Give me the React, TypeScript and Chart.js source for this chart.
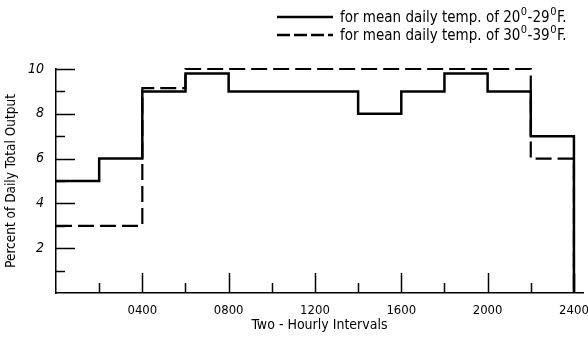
import React, { useEffect, useRef } from 'react';
import { Chart, registerables } from 'chart.js';

Chart.register(...registerables);

// Start hour of each two-hour interval
const intervalStarts = [0, 2, 4, 6, 8, 10, 12, 14, 16, 18, 20, 22];
const dayEndHour = 24;
// Percent of daily total output per interval
const temp20to29 = [5, 6, 9, 9.8, 9, 9, 9, 8, 9, 9.8, 9, 7];
const temp30to39 = [3, 3, 9.15, 10, 10, 10, 10, 10, 10, 10, 10, 6];
const seriesLabels = ['for mean daily temp. of 20⁰-29⁰F.', 'for mean daily temp. of 30⁰-39⁰F.'];

const xTickValues = [2, 4, 6, 8, 10, 12, 14, 16, 18, 20, 22, 24];
const xLabelValues = [4, 8, 12, 16, 20, 24];
const xTickLabels = ['0400', '0800', '1200', '1600', '2000', '2400'];
const yTickValues = [1, 2, 3, 4, 5, 6, 7, 8, 9, 10];
const yLabelValues = [2, 4, 6, 8, 10];
const yTickLabels = ['2', '4', '6', '8', '10'];

const xTitle = 'Two - Hourly Intervals';
const yTitle = 'Percent of Daily Total Output';

const FONT = '"Liberation Sans Narrow", "DejaVu Sans Condensed", "Arial Narrow", sans-serif';

function stepPoints(values: number[]) {
  const pts = intervalStarts.map((x, i) => ({ x, y: values[i] }));
  pts.push({ x: dayEndHour, y: values[values.length - 1] });
  pts.push({ x: dayEndHour, y: 0 });
  return pts;
}

const innerTicks = {
  id: 'innerTicks',
  afterDatasetsDraw(chart: any) {
    const { ctx, chartArea } = chart;
    const x = chart.scales.x;
    const y = chart.scales.y;
    ctx.save();
    ctx.strokeStyle = '#000';
    ctx.lineWidth = 1.5;
    yTickValues.forEach((v) => {
      const py = Math.round(y.getPixelForValue(v)) + 0.5;
      const len = yLabelValues.includes(v) ? 19 : 9;
      ctx.beginPath();
      ctx.moveTo(chartArea.left, py);
      ctx.lineTo(chartArea.left + len, py);
      ctx.stroke();
    });
    xTickValues.forEach((v) => {
      const px = Math.round(x.getPixelForValue(v)) + 0.5;
      const len = xLabelValues.includes(v) ? 20 : 10;
      ctx.beginPath();
      ctx.moveTo(px, chartArea.bottom);
      ctx.lineTo(px, chartArea.bottom - len);
      ctx.stroke();
    });
    ctx.restore();
  },
};

const customLegend = {
  id: 'customLegend',
  afterDraw(chart: any) {
    const { ctx } = chart;
    const rows = [
      { y: 17, dash: [] as number[] },
      { y: 35, dash: [13, 4] },
    ];
    ctx.save();
    rows.forEach((r, i) => {
      ctx.strokeStyle = '#000';
      ctx.lineWidth = 2.5;
      ctx.setLineDash(r.dash);
      ctx.beginPath();
      ctx.moveTo(277, r.y);
      ctx.lineTo(333, r.y);
      ctx.stroke();
      ctx.setLineDash([]);
      ctx.fillStyle = '#000';
      ctx.textBaseline = 'alphabetic';
      ctx.textAlign = 'left';
      const parts = seriesLabels[i].split('⁰');
      let tx = 340;
      const base = r.y + 5;
      parts.forEach((p, k) => {
        ctx.font = `15px ${FONT}`;
        ctx.fillText(p, tx, base);
        tx += ctx.measureText(p).width;
        if (k < parts.length - 1) {
          ctx.font = `11px ${FONT}`;
          ctx.fillText('0', tx + 0.5, base - 7);
          tx += ctx.measureText('0').width + 1;
        }
      });
    });
    ctx.restore();
  },
};

export default function App() {
  const ref = useRef<HTMLCanvasElement | null>(null);

  useEffect(() => {
    document.body.style.margin = '0';
    const canvas = ref.current;
    if (!canvas) return;
    const chart = new Chart(canvas, {
      type: 'line',
      data: {
        datasets: [
          {
            label: seriesLabels[1],
            data: stepPoints(temp30to39),
            stepped: 'before',
            borderColor: '#000',
            borderWidth: 2.2,
            borderDash: [16, 6],
            pointRadius: 0,
            fill: false,
            clip: false,
          },
          {
            label: seriesLabels[0],
            data: stepPoints(temp20to29),
            stepped: 'before',
            borderColor: '#000',
            borderWidth: 2.5,
            pointRadius: 0,
            fill: false,
            clip: false,
          },
        ],
      },
      options: {
        responsive: false,
        animation: false,
        events: [],
        layout: { padding: { top: 69, right: 5, left: 0, bottom: 0 } },
        plugins: {
          legend: { display: false },
          tooltip: { enabled: false },
        },
        scales: {
          x: {
            type: 'linear',
            min: 0,
            max: 24.42,
            afterBuildTicks: (s: any) => {
              s.ticks = xTickValues.map((v) => ({ value: v }));
            },
            afterFit: (s: any) => {
              s.height = 51;
              s.paddingLeft = 0;
              s.paddingRight = 0;
            },
            grid: { display: false, drawTicks: false },
            border: { display: true, color: '#000', width: 1.5 },
            ticks: {
              autoSkip: false,
              maxRotation: 0,
              minRotation: 0,
              padding: 10,
              color: '#000',
              font: { family: FONT, size: 13 },
              callback: (v: any) => {
                const i = xLabelValues.indexOf(Number(v));
                return i >= 0 ? xTickLabels[i] : '';
              },
            },
            title: {
              display: true,
              text: xTitle,
              color: '#000',
              font: { family: FONT, size: 14 },
              padding: { top: 0, bottom: 10 },
            },
          },
          y: {
            type: 'linear',
            min: 0,
            max: 10,
            afterBuildTicks: (s: any) => {
              s.ticks = yTickValues.map((v) => ({ value: v }));
            },
            afterFit: (s: any) => {
              s.width = 56;
              s.paddingTop = 0;
              s.paddingBottom = 0;
            },
            grid: { display: false, drawTicks: false },
            border: { display: true, color: '#000', width: 1.5 },
            ticks: {
              autoSkip: false,
              padding: 12,
              color: '#000',
              font: { family: FONT, size: 14, style: 'italic' },
              callback: (v: any) => {
                const i = yLabelValues.indexOf(Number(v));
                return i >= 0 ? yTickLabels[i] : '';
              },
            },
            title: {
              display: true,
              text: yTitle,
              color: '#000',
              font: { family: FONT, size: 13.5 },
              padding: { top: 3, bottom: 0 },
            },
          },
        },
      },
      plugins: [innerTicks, customLegend],
    });
    return () => chart.destroy();
  }, []);

  return (
    <div style={{ width: 588, height: 344, background: '#fff' }}>
      <canvas ref={ref} width={588} height={344} style={{ display: 'block' }} />
    </div>
  );
}
